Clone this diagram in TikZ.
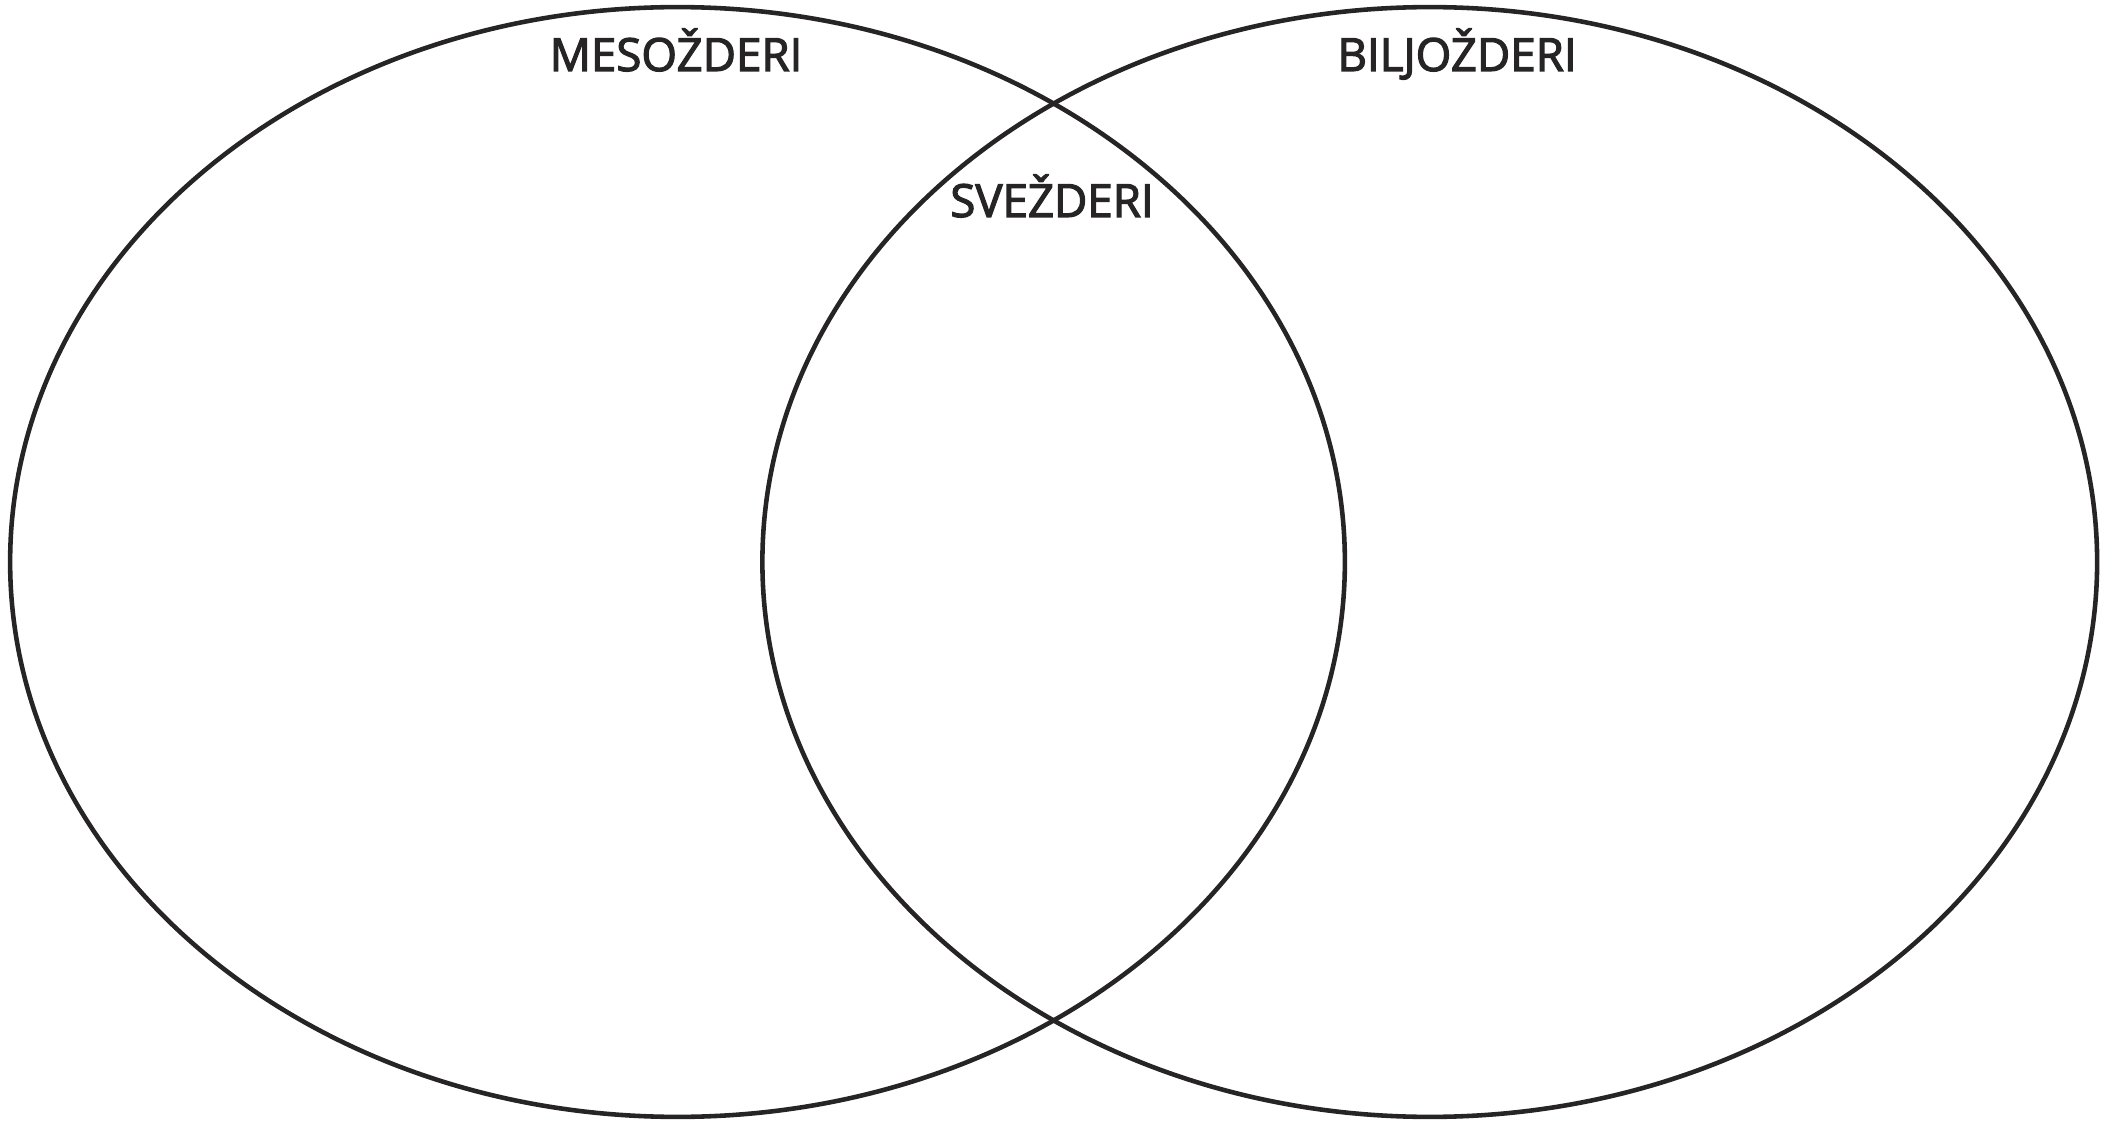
\documentclass[tikz,border=0pt]{standalone}
\usepackage{fontspec}
\setmainfont{Open Sans}
\newfontfamily\setfont{Open Sans}[FakeBold=2.6]
\usepackage{tikz}
\usetikzlibrary{shapes.geometric}
\definecolor{inkgray}{RGB}{38,36,37}

\begin{document}
\begin{tikzpicture}[
    x=0.02cm, y=-0.02cm,
    set/.style={draw=inkgray, ellipse, line width=2.6pt, inner sep=0pt,
                minimum width=26.7cm, minimum height=22.2cm},
    setname/.style={text=inkgray, font=\setfont\fontsize{26}{30}\selectfont,
                    anchor=base, inner sep=0pt}
  ]
    \useasboundingbox (0,0) rectangle (2116,1121);

    \node[set] (meso)  at (677.5,562)  {};
    \node[set] (bilje) at (1429.75,562) {};

    \node[setname] (mesolbl)  at (676,71)   {MESOŽDERI};
    \node[setname] (biljelbl) at (1457,71)  {BILJOŽDERI};
    \node[setname] (svelbl)   at (1052,217) {SVEŽDERI};
  \end{tikzpicture}
\end{document}
